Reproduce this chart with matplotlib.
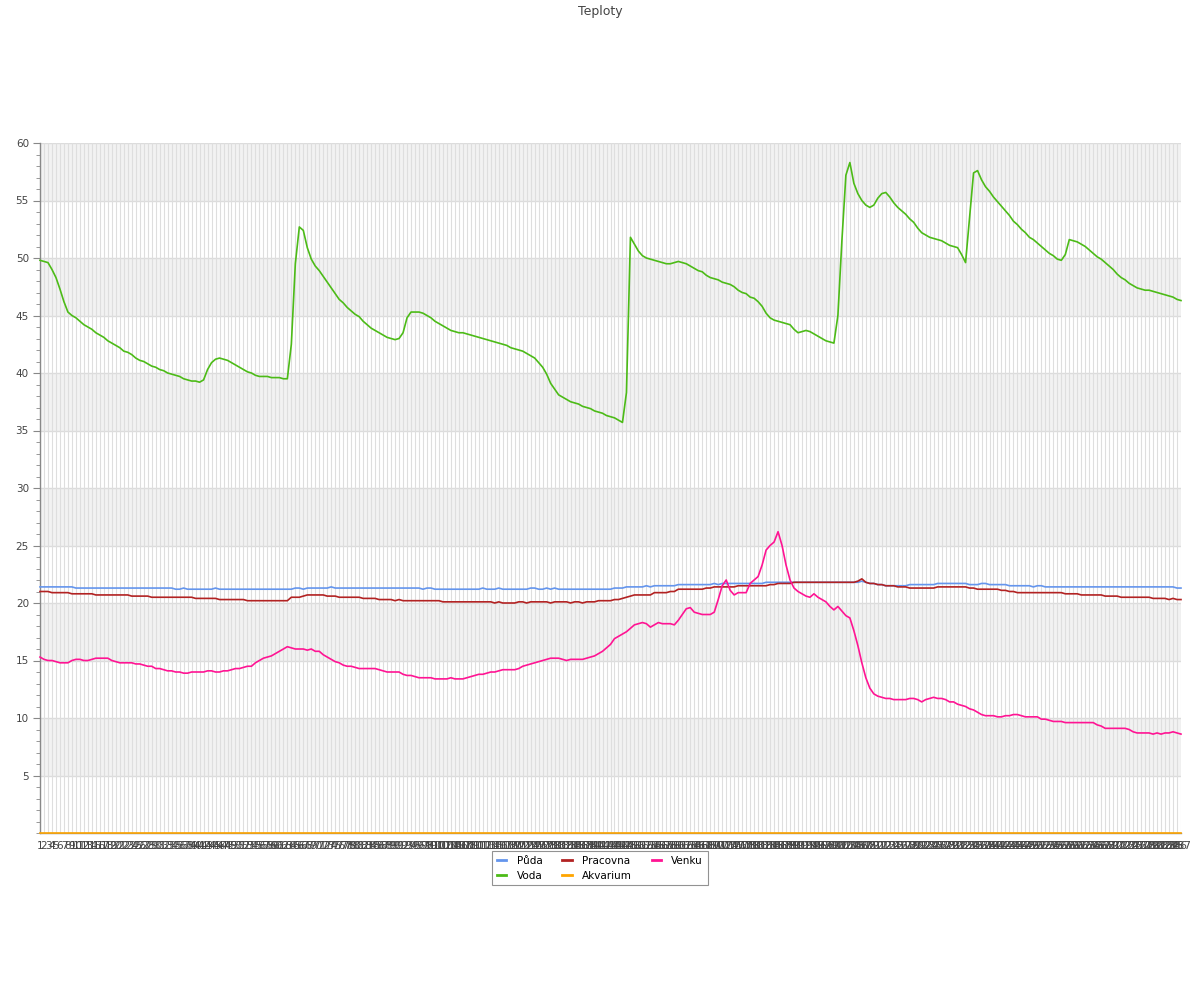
import matplotlib
matplotlib.use("Agg")
import matplotlib.pyplot as plt
from matplotlib.ticker import MultipleLocator

TITLE = "Teploty"
SERIES_NAMES = ["Půda", "Voda", "Pracovna", "Akvarium", "Venku"]
COLORS = ["#6495ED", "#4CBB17", "#B22222", "#FFA500", "#FF1493"]

PUDA = [
    21.4, 21.4, 21.4, 21.4, 21.4, 21.4, 21.4, 21.4, 21.4, 21.3,
    21.3, 21.3, 21.3, 21.3, 21.3, 21.3, 21.3, 21.3, 21.3, 21.3,
    21.3, 21.3, 21.3, 21.3, 21.3, 21.3, 21.3, 21.3, 21.3, 21.3,
    21.3, 21.3, 21.3, 21.3, 21.2, 21.2, 21.3, 21.2, 21.2, 21.2,
    21.2, 21.2, 21.2, 21.2, 21.3, 21.2, 21.2, 21.2, 21.2, 21.2,
    21.2, 21.2, 21.2, 21.2, 21.2, 21.2, 21.2, 21.2, 21.2, 21.2,
    21.2, 21.2, 21.2, 21.2, 21.3, 21.3, 21.2, 21.3, 21.3, 21.3,
    21.3, 21.3, 21.3, 21.4, 21.3, 21.3, 21.3, 21.3, 21.3, 21.3,
    21.3, 21.3, 21.3, 21.3, 21.3, 21.3, 21.3, 21.3, 21.3, 21.3,
    21.3, 21.3, 21.3, 21.3, 21.3, 21.3, 21.2, 21.3, 21.3, 21.2,
    21.2, 21.2, 21.2, 21.2, 21.2, 21.2, 21.2, 21.2, 21.2, 21.2,
    21.2, 21.3, 21.2, 21.2, 21.2, 21.3, 21.2, 21.2, 21.2, 21.2,
    21.2, 21.2, 21.2, 21.3, 21.3, 21.2, 21.2, 21.3, 21.2, 21.3,
    21.2, 21.2, 21.2, 21.2, 21.2, 21.2, 21.2, 21.2, 21.2, 21.2,
    21.2, 21.2, 21.2, 21.2, 21.3, 21.3, 21.3, 21.4, 21.4, 21.4,
    21.4, 21.4, 21.5, 21.4, 21.5, 21.5, 21.5, 21.5, 21.5, 21.5,
    21.6, 21.6, 21.6, 21.6, 21.6, 21.6, 21.6, 21.6, 21.6, 21.7,
    21.6, 21.7, 21.7, 21.7, 21.7, 21.7, 21.7, 21.7, 21.7, 21.7,
    21.7, 21.7, 21.8, 21.8, 21.8, 21.8, 21.8, 21.8, 21.8, 21.8,
    21.8, 21.8, 21.8, 21.8, 21.8, 21.8, 21.8, 21.8, 21.8, 21.8,
    21.8, 21.8, 21.8, 21.8, 21.8, 21.8, 21.9, 21.8, 21.7, 21.7,
    21.6, 21.6, 21.5, 21.5, 21.5, 21.5, 21.5, 21.5, 21.6, 21.6,
    21.6, 21.6, 21.6, 21.6, 21.6, 21.7, 21.7, 21.7, 21.7, 21.7,
    21.7, 21.7, 21.7, 21.6, 21.6, 21.6, 21.7, 21.7, 21.6, 21.6,
    21.6, 21.6, 21.6, 21.5, 21.5, 21.5, 21.5, 21.5, 21.5, 21.4,
    21.5, 21.5, 21.4, 21.4, 21.4, 21.4, 21.4, 21.4, 21.4, 21.4,
    21.4, 21.4, 21.4, 21.4, 21.4, 21.4, 21.4, 21.4, 21.4, 21.4,
    21.4, 21.4, 21.4, 21.4, 21.4, 21.4, 21.4, 21.4, 21.4, 21.4,
    21.4, 21.4, 21.4, 21.4, 21.4, 21.3, 21.3,
]

VODA = [
    49.8, 49.7, 49.6, 49.0, 48.3, 47.3, 46.2, 45.3, 45.0, 44.8,
    44.5, 44.2, 44.0, 43.8, 43.5, 43.3, 43.1, 42.8, 42.6, 42.4,
    42.2, 41.9, 41.8, 41.6, 41.3, 41.1, 41.0, 40.8, 40.6, 40.5,
    40.3, 40.2, 40.0, 39.9, 39.8, 39.7, 39.5, 39.4, 39.3, 39.3,
    39.2, 39.4, 40.3, 40.9, 41.2, 41.3, 41.2, 41.1, 40.9, 40.7,
    40.5, 40.3, 40.1, 40.0, 39.8, 39.7, 39.7, 39.7, 39.6, 39.6,
    39.6, 39.5, 39.5, 42.5, 49.5, 52.7, 52.4, 50.9, 49.9, 49.3,
    48.9, 48.4, 47.9, 47.4, 46.9, 46.4, 46.1, 45.7, 45.4, 45.1,
    44.9, 44.5, 44.2, 43.9, 43.7, 43.5, 43.3, 43.1, 43.0, 42.9,
    43.0, 43.5, 44.8, 45.3, 45.3, 45.3, 45.2, 45.0, 44.8, 44.5,
    44.3, 44.1, 43.9, 43.7, 43.6, 43.5, 43.5, 43.4, 43.3, 43.2,
    43.1, 43.0, 42.9, 42.8, 42.7, 42.6, 42.5, 42.4, 42.2, 42.1,
    42.0, 41.9, 41.7, 41.5, 41.3, 40.9, 40.5, 39.9, 39.1, 38.6,
    38.1, 37.9, 37.7, 37.5, 37.4, 37.3, 37.1, 37.0, 36.9, 36.7,
    36.6, 36.5, 36.3, 36.2, 36.1, 35.9, 35.7, 38.3, 51.8, 51.2,
    50.6, 50.2, 50.0, 49.9, 49.8, 49.7, 49.6, 49.5, 49.5, 49.6,
    49.7, 49.6, 49.5, 49.3, 49.1, 48.9, 48.8, 48.5, 48.3, 48.2,
    48.1, 47.9, 47.8, 47.7, 47.5, 47.2, 47.0, 46.9, 46.6, 46.5,
    46.2, 45.8, 45.2, 44.8, 44.6, 44.5, 44.4, 44.3, 44.2, 43.8,
    43.5, 43.6, 43.7, 43.6, 43.4, 43.2, 43.0, 42.8, 42.7, 42.6,
    45.0, 51.5, 57.2, 58.3, 56.5, 55.6, 55.0, 54.6, 54.4, 54.6,
    55.2, 55.6, 55.7, 55.3, 54.8, 54.4, 54.1, 53.8, 53.4, 53.1,
    52.6, 52.2, 52.0, 51.8, 51.7, 51.6, 51.5, 51.3, 51.1, 51.0,
    50.9, 50.3, 49.6, 53.5, 57.4, 57.6, 56.8, 56.2, 55.8, 55.3,
    54.9, 54.5, 54.1, 53.7, 53.2, 52.9, 52.5, 52.2, 51.8, 51.6,
    51.3, 51.0, 50.7, 50.4, 50.2, 49.9, 49.8, 50.3, 51.6, 51.5,
    51.4, 51.2, 51.0, 50.7, 50.4, 50.1, 49.9, 49.6, 49.3, 49.0,
    48.6, 48.3, 48.1, 47.8, 47.6, 47.4, 47.3, 47.2, 47.2, 47.1,
    47.0, 46.9, 46.8, 46.7, 46.6, 46.4, 46.3,
]

PRACOVNA = [
    21.0, 21.0, 21.0, 20.9, 20.9, 20.9, 20.9, 20.9, 20.8, 20.8,
    20.8, 20.8, 20.8, 20.8, 20.7, 20.7, 20.7, 20.7, 20.7, 20.7,
    20.7, 20.7, 20.7, 20.6, 20.6, 20.6, 20.6, 20.6, 20.5, 20.5,
    20.5, 20.5, 20.5, 20.5, 20.5, 20.5, 20.5, 20.5, 20.5, 20.4,
    20.4, 20.4, 20.4, 20.4, 20.4, 20.3, 20.3, 20.3, 20.3, 20.3,
    20.3, 20.3, 20.2, 20.2, 20.2, 20.2, 20.2, 20.2, 20.2, 20.2,
    20.2, 20.2, 20.2, 20.5, 20.5, 20.5, 20.6, 20.7, 20.7, 20.7,
    20.7, 20.7, 20.6, 20.6, 20.6, 20.5, 20.5, 20.5, 20.5, 20.5,
    20.5, 20.4, 20.4, 20.4, 20.4, 20.3, 20.3, 20.3, 20.3, 20.2,
    20.3, 20.2, 20.2, 20.2, 20.2, 20.2, 20.2, 20.2, 20.2, 20.2,
    20.2, 20.1, 20.1, 20.1, 20.1, 20.1, 20.1, 20.1, 20.1, 20.1,
    20.1, 20.1, 20.1, 20.1, 20.0, 20.1, 20.0, 20.0, 20.0, 20.0,
    20.1, 20.1, 20.0, 20.1, 20.1, 20.1, 20.1, 20.1, 20.0, 20.1,
    20.1, 20.1, 20.1, 20.0, 20.1, 20.1, 20.0, 20.1, 20.1, 20.1,
    20.2, 20.2, 20.2, 20.2, 20.3, 20.3, 20.4, 20.5, 20.6, 20.7,
    20.7, 20.7, 20.7, 20.7, 20.9, 20.9, 20.9, 20.9, 21.0, 21.0,
    21.2, 21.2, 21.2, 21.2, 21.2, 21.2, 21.2, 21.3, 21.3, 21.4,
    21.4, 21.4, 21.4, 21.4, 21.4, 21.5, 21.5, 21.5, 21.5, 21.5,
    21.5, 21.5, 21.5, 21.6, 21.6, 21.7, 21.7, 21.7, 21.7, 21.8,
    21.8, 21.8, 21.8, 21.8, 21.8, 21.8, 21.8, 21.8, 21.8, 21.8,
    21.8, 21.8, 21.8, 21.8, 21.8, 21.9, 22.1, 21.8, 21.7, 21.7,
    21.6, 21.6, 21.5, 21.5, 21.5, 21.4, 21.4, 21.4, 21.3, 21.3,
    21.3, 21.3, 21.3, 21.3, 21.3, 21.4, 21.4, 21.4, 21.4, 21.4,
    21.4, 21.4, 21.4, 21.3, 21.3, 21.2, 21.2, 21.2, 21.2, 21.2,
    21.2, 21.1, 21.1, 21.0, 21.0, 20.9, 20.9, 20.9, 20.9, 20.9,
    20.9, 20.9, 20.9, 20.9, 20.9, 20.9, 20.9, 20.8, 20.8, 20.8,
    20.8, 20.7, 20.7, 20.7, 20.7, 20.7, 20.7, 20.6, 20.6, 20.6,
    20.6, 20.5, 20.5, 20.5, 20.5, 20.5, 20.5, 20.5, 20.5, 20.4,
    20.4, 20.4, 20.4, 20.3, 20.4, 20.3, 20.3,
]

AKVARIUM = [0.0] * len(PUDA)

VENKU = [
    15.3, 15.1, 15.0, 15.0, 14.9, 14.8, 14.8, 14.8, 15.0, 15.1,
    15.1, 15.0, 15.0, 15.1, 15.2, 15.2, 15.2, 15.2, 15.0, 14.9,
    14.8, 14.8, 14.8, 14.8, 14.7, 14.7, 14.6, 14.5, 14.5, 14.3,
    14.3, 14.2, 14.1, 14.1, 14.0, 14.0, 13.9, 13.9, 14.0, 14.0,
    14.0, 14.0, 14.1, 14.1, 14.0, 14.0, 14.1, 14.1, 14.2, 14.3,
    14.3, 14.4, 14.5, 14.5, 14.8, 15.0, 15.2, 15.3, 15.4, 15.6,
    15.8, 16.0, 16.2, 16.1, 16.0, 16.0, 16.0, 15.9, 16.0, 15.8,
    15.8, 15.5, 15.3, 15.1, 14.9, 14.8, 14.6, 14.5, 14.5, 14.4,
    14.3, 14.3, 14.3, 14.3, 14.3, 14.2, 14.1, 14.0, 14.0, 14.0,
    14.0, 13.8, 13.7, 13.7, 13.6, 13.5, 13.5, 13.5, 13.5, 13.4,
    13.4, 13.4, 13.4, 13.5, 13.4, 13.4, 13.4, 13.5, 13.6, 13.7,
    13.8, 13.8, 13.9, 14.0, 14.0, 14.1, 14.2, 14.2, 14.2, 14.2,
    14.3, 14.5, 14.6, 14.7, 14.8, 14.9, 15.0, 15.1, 15.2, 15.2,
    15.2, 15.1, 15.0, 15.1, 15.1, 15.1, 15.1, 15.2, 15.3, 15.4,
    15.6, 15.8, 16.1, 16.4, 16.9, 17.1, 17.3, 17.5, 17.8, 18.1,
    18.2, 18.3, 18.2, 17.9, 18.1, 18.3, 18.2, 18.2, 18.2, 18.1,
    18.5, 19.0, 19.5, 19.6, 19.2, 19.1, 19.0, 19.0, 19.0, 19.2,
    20.3, 21.5, 22.0, 21.1, 20.7, 20.9, 20.9, 20.9, 21.7, 22.0,
    22.3, 23.3, 24.6, 25.0, 25.3, 26.2, 25.0, 23.3, 22.0, 21.3,
    21.0, 20.8, 20.6, 20.5, 20.8, 20.5, 20.3, 20.1, 19.7, 19.4,
    19.7, 19.3, 18.9, 18.7, 17.6, 16.3, 14.8, 13.5, 12.6, 12.1,
    11.9, 11.8, 11.7, 11.7, 11.6, 11.6, 11.6, 11.6, 11.7, 11.7,
    11.6, 11.4, 11.6, 11.7, 11.8, 11.7, 11.7, 11.6, 11.4, 11.4,
    11.2, 11.1, 11.0, 10.8, 10.7, 10.5, 10.3, 10.2, 10.2, 10.2,
    10.1, 10.1, 10.2, 10.2, 10.3, 10.3, 10.2, 10.1, 10.1, 10.1,
    10.1, 9.9, 9.9, 9.8, 9.7, 9.7, 9.7, 9.6, 9.6, 9.6,
    9.6, 9.6, 9.6, 9.6, 9.6, 9.4, 9.3, 9.1, 9.1, 9.1,
    9.1, 9.1, 9.1, 9.0, 8.8, 8.7, 8.7, 8.7, 8.7, 8.6,
    8.7, 8.6, 8.7, 8.7, 8.8, 8.7, 8.6,
]

X_LABELS = [str(i + 1) for i in range(len(PUDA))]
Y_TICKS = [5, 10, 15, 20, 25, 30, 35, 40, 45, 50, 55, 60]
BANDS = [(5, 10), (15, 20), (25, 30), (35, 40), (45, 50), (55, 60)]

fig = plt.figure(figsize=(12, 10), dpi=100)
ax = fig.add_axes([40 / 1200, 1 - 833 / 1000, 1141 / 1200, 690 / 1000])

x = list(range(len(PUDA)))
for lo, hi in BANDS:
    ax.axhspan(lo, hi, color="#f2f2f2", zorder=0, lw=0)

for yv in Y_TICKS:
    ax.axhline(yv, color="#dcdcdc", lw=1.0, zorder=0.5)

ax.set_xticks(x)
ax.set_xticklabels(X_LABELS, fontsize=7.5, color="#444444")
ax.grid(axis="x", color="#dedede", lw=0.8, zorder=0.5)
ax.set_axisbelow(True)
ax.tick_params(axis="x", length=0, pad=6)

series = [PUDA, VODA, PRACOVNA, AKVARIUM, VENKU]
for name, col, data in zip(SERIES_NAMES, COLORS, series):
    ax.plot(x, data, color=col, lw=1.2, label=name, zorder=3, clip_on=False)

ax.set_xlim(0, len(PUDA) - 1)
ax.set_ylim(0, 60)
ax.set_yticks(Y_TICKS)
ax.yaxis.set_minor_locator(MultipleLocator(1))
ax.tick_params(axis="y", which="major", length=5, color="#888888",
               labelsize=7.5, labelcolor="#444444", pad=3)
ax.tick_params(axis="y", which="minor", length=3, color="#888888")

for s in ["top", "right"]:
    ax.spines[s].set_visible(False)
ax.spines["left"].set_color("#888888")
ax.spines["bottom"].set_color("#888888")
ax.spines["left"].set_linewidth(1)
ax.spines["bottom"].set_linewidth(1)

fig.text(0.5, 1 - 11 / 1000, TITLE, ha="center", va="center",
         fontsize=9, color="#444444")

leg = fig.legend(loc="upper center", bbox_to_anchor=(0.5, 1 - 846 / 1000),
                 ncol=3, fontsize=7.5, frameon=True, fancybox=False,
                 edgecolor="#777777", handlelength=0.9, columnspacing=1.9,
                 handletextpad=1.0, borderpad=0.45, labelspacing=0.45)
leg.get_frame().set_linewidth(0.8)
for line in leg.get_lines():
    line.set_linewidth(2)

fig.savefig("out.png", dpi=100)
